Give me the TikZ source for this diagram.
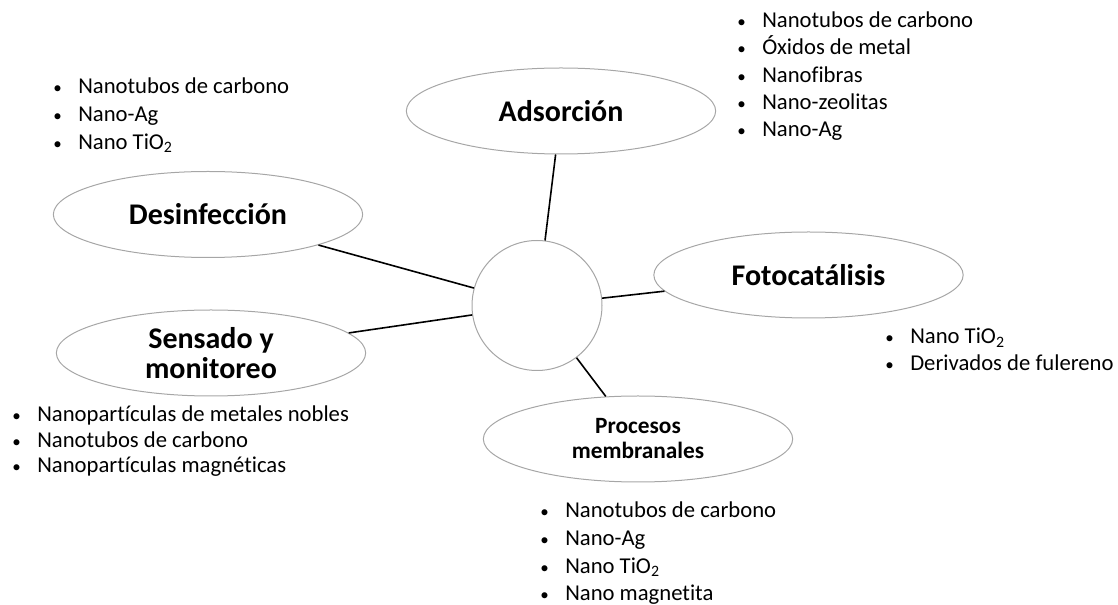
\documentclass[tikz,border=0pt]{standalone}
\usepackage{fontspec}
\setmainfont{Carlito}[Ligatures={NoCommon}]
\usetikzlibrary{shapes}

\newcommand{\vineta}{\makebox[18.75pt][l]{\scalebox{0.75}{\textbullet}}}

\begin{document}
\begin{tikzpicture}[x=0.75pt,y=-0.75pt,
  tema/.style={ellipse,draw=gray!70,line width=0.75pt,inner sep=0pt,
    minimum width=232pt,minimum height=64.5pt,align=center,
    font=\fontsize{22.5}{22.5}\selectfont\bfseries},
  enlace/.style={line width=1.2pt},
  item/.style={anchor=base west,inner sep=0pt,font=\fontsize{17}{20}\selectfont}]
\useasboundingbox (0,0) rectangle (1118,605);

% centro y temas
\node[circle,draw=gray!70,line width=0.75pt,minimum size=97.5pt] (centro) at (537,305.5) {};
\node[tema] (ads) at (561,111) {Adsorción};
\node[tema] (des) at (208,214.5) {Desinfección};
\node[tema] (fot) at (808.5,275) {Fotocatálisis};
\node[tema] (sen) at (211,353) {Sensado y\\monitoreo};
\node[tema,font=\fontsize{17.5}{18.75}\selectfont\bfseries] (pro) at (638,439) {Procesos\\membranales};

\foreach \n in {ads,des,fot,sen,pro} {
\draw[enlace] (centro) -- (\n);
}

% listas
\foreach \t [count=\i] in {Nanotubos de carbono, Óxidos de metal, Nanofibras, Nano-zeolitas, Nano-Ag} {
\node[item] (ads\i) at (737,{27.3+27.4*(\i-1)}) {\vineta\t};
}
\foreach \t [count=\i] in {Nanotubos de carbono, Nano-Ag, Nano TiO\textsubscript{2}} {
\node[item] (des\i) at (53,{93.5+28*(\i-1)}) {\vineta\t};
}
\foreach \t [count=\i] in {Nano TiO\textsubscript{2}, Derivados de fulereno} {
\node[item] (fot\i) at (885,{344+27*(\i-1)}) {\vineta\t};
}
\foreach \t [count=\i] in {Nanopartículas de metales nobles, Nanotubos de carbono, Nanopartículas magnéticas} {
\node[item] (sen\i) at (12,{422+25.5*(\i-1)}) {\vineta\t};
}
\foreach \t [count=\i] in {Nanotubos de carbono, Nano-Ag, Nano TiO\textsubscript{2}, Nano magnetita} {
\node[item] (pro\i) at (540,{518+27.6*(\i-1)}) {\vineta\t};
}
\end{tikzpicture}
\end{document}
